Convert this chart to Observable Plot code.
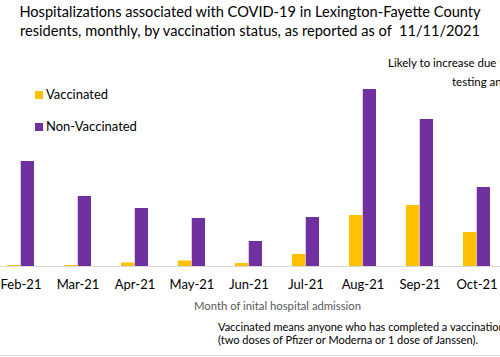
<!DOCTYPE html>
<html>
<head>
<meta charset="utf-8">
<script src="https://cdn.jsdelivr.net/npm/d3@7"></script>
<script src="https://cdn.jsdelivr.net/npm/@observablehq/plot@0.6"></script>
<style>
  html, body { margin: 0; padding: 0; background: #fff; }
  #wrap { position: relative; width: 500px; height: 357px; overflow: hidden; font-family: Lato, "Open Sans", sans-serif; background: #fff; }
  #wrap svg { position: absolute; left: 0; top: 0; }
  .t { position: absolute; white-space: nowrap; color: #000; }
  .title { left: 0; width: 500px; text-align: center; font-size: 14.6px; line-height: 19px; top: 2px; }
  .sw { position: absolute; width: 8px; height: 8px; }
</style>
</head>
<body>
<div id="wrap">
  <div class="t title">Hospitalizations associated with COVID-19 in Lexington-Fayette County<br>residents, monthly, by vaccination status, as reported as of&nbsp; 11/11/2021</div>
  <div class="t" style="left:388px; top:56px; font-size:11.5px;">Likely to increase due to</div>
  <div class="t" style="left:452px; top:75px; font-size:11.5px;">testing and</div>
  <div id="legend"></div>
  <div class="t" style="left:0; width:555px; text-align:center; top:299px; font-size:11.3px; color:#595959;">Month of inital hospital admission</div>
  <div class="t" style="left:218px; top:321px; font-size:11px; line-height:12.5px;">Vaccinated means anyone who has completed a vaccination<br>(two doses of Pfizer or Moderna or 1 dose of Janssen).</div>
  <div style="position:absolute; left:0; top:355px; width:500px; height:0; border-top:1px solid #d9d9d9;"></div>
</div>
<script>
const months = ["Feb-21","Mar-21","Apr-21","May-21","Jun-21","Jul-21","Aug-21","Sep-21","Oct-21"];
const vaccinated = [1, 1, 3.5, 5.5, 3, 12, 51, 61, 34];
const nonVaccinated = [105, 70, 58, 48, 25, 49, 177, 147, 79];
const seriesNames = ["Vaccinated", "Non-Vaccinated"];
const seriesColors = ["#FFC000", "#7030A0"];

const vData = months.map((m, i) => ({month: m, value: vaccinated[i], series: seriesNames[0]}));
const nData = months.map((m, i) => ({month: m, value: nonVaccinated[i], series: seriesNames[1]}));

const chart = Plot.plot({
  width: 500,
  height: 357,
  marginTop: 0,
  marginBottom: 91,
  marginLeft: 0,
  marginRight: 0,
  style: {fontFamily: "Lato, 'Open Sans', sans-serif", fontSize: "13px", color: "#000", background: "transparent"},
  x: {domain: months, range: [-8.56, 505.56], paddingInner: 0.519, paddingOuter: 0.26, label: null},
  y: {domain: [0, 266], axis: null},
  color: {domain: seriesNames, range: seriesColors},
  marks: [
    Plot.barY(vData, {x: "month", y: "value", fill: "series", insetRight: 13.75}),
    Plot.barY(nData, {x: "month", y: "value", fill: "series", insetLeft: 13.75}),
    Plot.ruleY([0], {stroke: "#d9d9d9", strokeWidth: 1.2}),
    Plot.axisX({tickSize: 0, tickPadding: 13, label: null, fill: "#000"})
  ]
});
document.getElementById("wrap").insertBefore(chart, document.getElementById("wrap").firstChild);

const legend = document.getElementById("legend");
const legendTops = [86, 118];
seriesNames.forEach((name, i) => {
  const sw = document.createElement("div");
  sw.className = "sw";
  sw.style.left = "35px";
  sw.style.top = (legendTops[i] + 5) + "px";
  sw.style.background = seriesColors[i];
  legend.appendChild(sw);
  const t = document.createElement("div");
  t.className = "t";
  t.style.left = "46px";
  t.style.top = legendTops[i] + "px";
  t.style.fontSize = "13px";
  t.textContent = name;
  legend.appendChild(t);
});
</script>
</body>
</html>
